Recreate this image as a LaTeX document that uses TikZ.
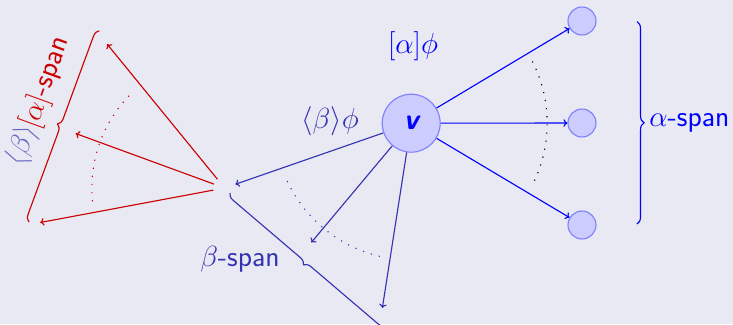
\documentclass[tikz,border=0pt]{standalone}
\usepackage{fontspec}
\usepackage{amsmath}
\usetikzlibrary{arrows.meta,decorations.pathreplacing}
\definecolor{paper}{RGB}{233,233,243}
\definecolor{alphac}{RGB}{0,0,255}
\definecolor{betac}{RGB}{51,51,179}
\definecolor{redc}{RGB}{204,0,0}

\tikzset{
  world/.style={circle, draw=blue!50, fill=blue!20, minimum size=0.7cm, inner sep=0pt},
  ghost/.style={circle, minimum size=0.54cm, inner sep=0pt},
  span brace/.style={decorate, decoration={brace, amplitude=5pt}},
  dotarc/.style={dash pattern=on 0.8pt off 5pt},
  lbl/.style={font=\fontsize{21}{25}\selectfont\sffamily},
}

\begin{document}
\begin{tikzpicture}[line width=0.8pt, >={To[length=2.8pt,width=5.4pt]}]
  \fill[paper] (0,0) rectangle (18.325,-8.1);
  \useasboundingbox (0,0) rectangle (18.325,-8.1);

  \node[world, minimum size=1.45cm, lbl] (v) at (10.28,-3.08) {\color{alphac}\bfseries\itshape v};
  \node[world] (a1) at (14.55,-0.525) {};
  \node[world] (a2) at (14.55,-3.075) {};
  \node[world] (a3) at (14.55,-5.625) {};

  \node[ghost] (w1) at (5.615,-4.70) {};
  \node[ghost] (w2) at (7.60,-6.28) {};
  \node[ghost] (w3) at (9.515,-7.98) {};

  \node[ghost] (r1) at (2.50,-0.885) {};
  \node[ghost] (r2) at (1.625,-3.24) {};
  \node[ghost] (r3) at (0.725,-5.615) {};

  \draw[->, alphac] (v) -- (a1);
  \draw[->, alphac] (v) -- (a2);
  \draw[->, alphac] (v) -- (a3);
  \draw[->, betac] (v) -- (w1);
  \draw[->, betac] (v) -- (w2);
  \draw[->, betac] (v) -- (w3);
  \draw[->, redc] (w1) -- (r1);
  \draw[->, redc] (w1) -- (r2);
  \draw[->, redc] (w1) -- (r3);

  \draw[dotarc, black] (v) ++(27:3.4) arc[start angle=27, end angle=-27, radius=3.4];
  \draw[dotarc, betac] (v) ++(205:3.42) arc[start angle=205, end angle=257, radius=3.42];
  \draw[dotarc, redc] (w1) ++(136:3.32) arc[start angle=136, end angle=186, radius=3.32];

  \coordinate (ab1) at (15.925,-0.54);
  \coordinate (ab2) at (15.925,-5.6);
  \coordinate (bb1) at (5.75,-4.825);
  \coordinate (bb2) at (9.65,-8.15);
  \coordinate (rb1) at (0.725,-5.55);
  \coordinate (rb2) at (2.48,-0.77);
  \draw[alphac, span brace] (ab1) -- (ab2);
  \draw[betac, span brace] (bb2) -- (bb1);
  \draw[redc, span brace] (rb1) -- (rb2);

  \node[lbl, alphac] (box) at (10.325,-1.15) {$[\alpha]\phi$};
  \node[lbl, betac] (dia) at (8.25,-3.025) {$\langle\beta\rangle\phi$};
  \node[lbl, alphac, anchor=west, inner sep=0pt] (aspan) at (16.22,-3.075) {$\alpha$-span};
  \node[lbl, betac] (bspan) at (6.0,-6.475) {$\beta$-span};
  \node[lbl, redc, rotate=70] (rspan) at (0.97,-2.53) {\textcolor{betac!75}{$\langle\beta\rangle$}$[\alpha]$-span};
\end{tikzpicture}
\end{document}
